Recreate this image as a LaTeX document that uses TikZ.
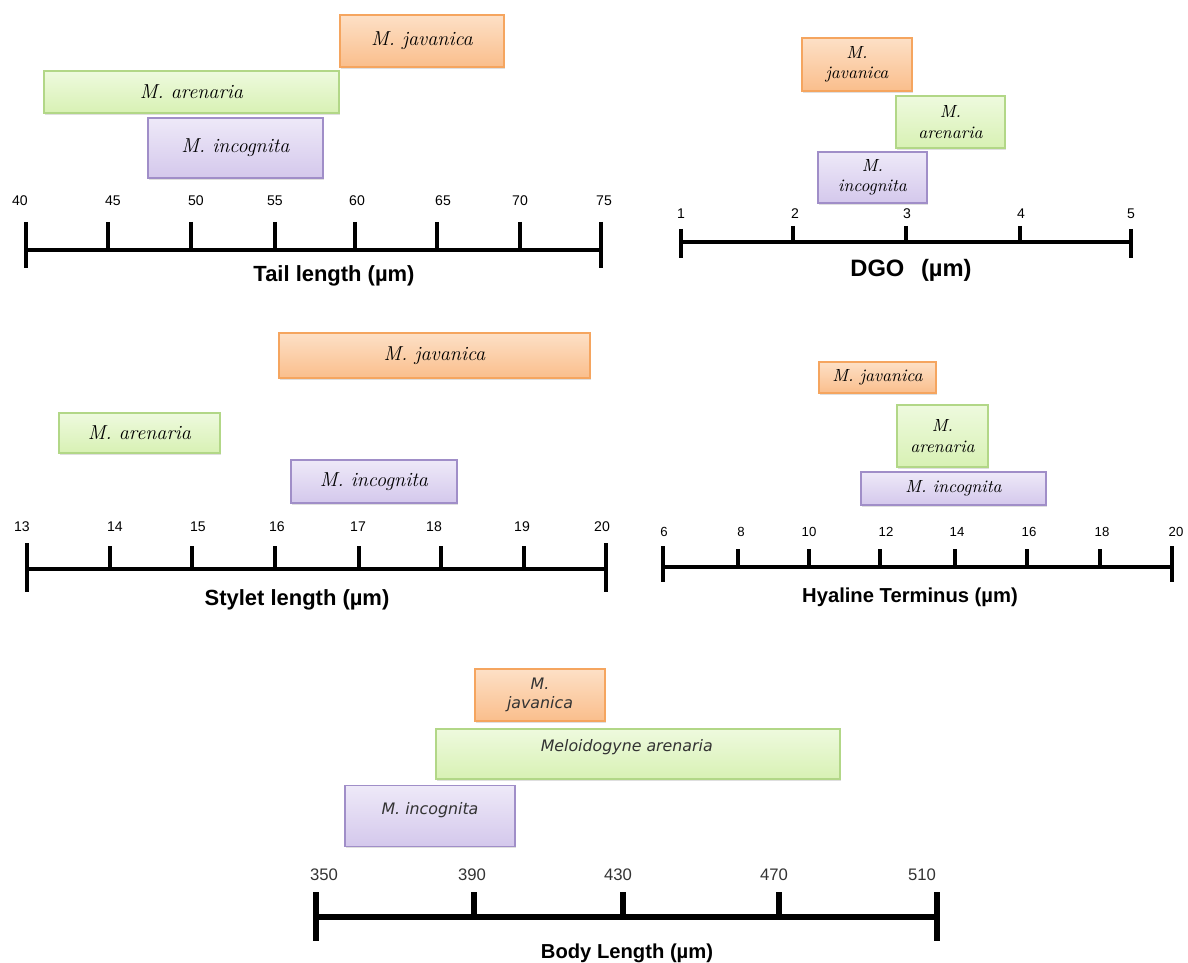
\documentclass[tikz,border=0pt]{standalone}
\usepackage{fontspec}
\setsansfont{Liberation Sans}
\newfontfamily\bodyfont{DejaVu Sans}
\usetikzlibrary{positioning,shadows}
\definecolor{javaline}{RGB}{245,165,95}
\definecolor{javatop}{RGB}{253,224,198}
\definecolor{javabot}{RGB}{250,190,140}
\definecolor{arenline}{RGB}{178,215,135}
\definecolor{arentop}{RGB}{238,250,222}
\definecolor{arenbot}{RGB}{216,241,180}
\definecolor{incoline}{RGB}{160,142,200}
\definecolor{incotop}{RGB}{238,233,248}
\definecolor{incobot}{RGB}{212,200,236}

\begin{document}
\begin{tikzpicture}[x=0.02cm, y=-0.02cm,
  sp_box/.style={draw, line width=0.8pt, inner sep=1pt, align=center,
    font=\itshape\fontsize{11.5}{13}\selectfont,
    drop shadow={shadow xshift=0.6pt, shadow yshift=-0.9pt, opacity=0.25}},
  java_box/.style={sp_box, draw=javaline, top color=javatop, bottom color=javabot},
  aren_box/.style={sp_box, draw=arenline, top color=arentop, bottom color=arenbot},
  inco_box/.style={sp_box, draw=incoline, top color=incotop, bottom color=incobot},
  small_txt/.style={font=\itshape\fontsize{10}{11.5}\selectfont},
  body_txt/.style={font=\bodyfont\itshape\fontsize{9}{11}\selectfont, text=black!80},
  axis_line/.style={line width=2.2pt},
  body_line/.style={line width=3.4pt},
  tick_label/.style={font=\sffamily\fontsize{8}{9}\selectfont},
  axis_title/.style={font=\sffamily\bfseries\fontsize{12.5}{14}\selectfont},
]
\useasboundingbox (0,0) rectangle (1188,963);

% tail length
\node[java_box, minimum width=3.28cm, minimum height=1.04cm] (tail_java) at (422,41) {M.\ javanica};
\node[aren_box, minimum width=5.9cm, minimum height=0.84cm] (tail_aren) at (191.5,92) {M. arenaria};
\node[inco_box, minimum width=3.5cm, minimum height=1.2cm] (tail_inco) at (235.5,148) {M. incognita};
\coordinate (tail_l) at (26,250);
\coordinate (tail_r) at (601,250);
\draw[axis_line] (tail_l) -- (tail_r);
\draw[axis_line] (26,222) -- (26,268) (601,222) -- (601,268);
\foreach \x in {108,191,275,355,437,520}
  \draw[axis_line] (\x,222) -- (\x,250);
\foreach \lx/\t in {20/40,113/45,196/50,275/55,357/60,443/65,520/70,604/75}
  \node[tick_label] (tail_\t) at (\lx,201) {\t};
\node[axis_title] (tail_title) at (334,276) {Tail length (µm)};

% DGO
\node[java_box, small_txt, minimum width=2.2cm, minimum height=1.06cm] (dgo_java) at (857,64.5) {M.\\javanica};
\node[aren_box, small_txt, minimum width=2.18cm, minimum height=1.04cm] (dgo_aren) at (950.5,122) {M.\\arenaria};
\node[inco_box, small_txt, minimum width=2.18cm, minimum height=1.02cm] (dgo_inco) at (872.5,177.5) {M.\\incognita};
\coordinate (dgo_l) at (681,242);
\coordinate (dgo_r) at (1131,242);
\draw[axis_line] (dgo_l) -- (dgo_r);
\draw[axis_line] (681,229) -- (681,258) (1131,229) -- (1131,258);
\foreach \x in {793,906,1020}
  \draw[axis_line] (\x,226) -- (\x,242);
\foreach \lx/\t in {681/1,795/2,907/3,1021/4,1131/5}
  \node[tick_label] (dgo_\t) at (\lx,214) {\t};
\node[axis_title, font=\sffamily\bfseries\fontsize{13.5}{15}\selectfont] (dgo_title) at (911,270) {DGO\hspace{0.7em}(µm)};

% stylet length
\node[java_box, minimum width=6.22cm, minimum height=0.9cm] (styl_java) at (434.5,355.5) {M.\ javanica};
\node[aren_box, minimum width=3.22cm, minimum height=0.8cm] (styl_aren) at (139.5,433) {M. arenaria};
\node[inco_box, minimum width=3.32cm, minimum height=0.86cm] (styl_inco) at (374,481.5) {M. incognita};
\coordinate (styl_l) at (27,569);
\coordinate (styl_r) at (606,569);
\draw[axis_line] (styl_l) -- (styl_r);
\draw[axis_line] (27,543) -- (27,592) (606,543) -- (606,592);
\foreach \x in {110,192,275,359,441,524}
  \draw[axis_line] (\x,546) -- (\x,569);
\foreach \lx/\t in {22/13,115/14,198/15,277/16,358/17,434/18,522/19,602/20}
  \node[tick_label] (styl_\t) at (\lx,527) {\t};
\node[axis_title] (styl_title) at (297,600) {Stylet length (µm)};

% hyaline terminus
\node[java_box, small_txt, minimum width=2.34cm, minimum height=0.62cm] (hyal_java) at (877.5,377.5) {M. javanica};
\node[aren_box, small_txt, minimum width=1.82cm, minimum height=1.24cm] (hyal_aren) at (942.5,436) {M.\\arenaria};
\node[inco_box, small_txt, minimum width=3.7cm, minimum height=0.66cm] (hyal_inco) at (953.5,488.5) {M. incognita};
\coordinate (hyal_l) at (663,567);
\coordinate (hyal_r) at (1172,567);
\draw[axis_line] (hyal_l) -- (hyal_r);
\draw[axis_line] (663,546) -- (663,582) (1172,546) -- (1172,582);
\foreach \x in {738,809,880,955,1027,1100}
  \draw[axis_line] (\x,549) -- (\x,567);
\foreach \lx/\t in {664/6,741/8,809/10,886/12,957/14,1029/16,1102/18,1176/20}
  \node[tick_label, font=\sffamily\fontsize{7.5}{9}\selectfont] (hyal_\t) at (\lx,532) {\t};
\node[axis_title, font=\sffamily\bfseries\fontsize{11.5}{13}\selectfont] (hyal_title) at (910,597) {Hyaline Terminus (µm)};

% body length
\node[java_box, body_txt, minimum width=2.6cm, minimum height=1.04cm] (body_java) at (540,695) {M.\\javanica};
\node[aren_box, body_txt, minimum width=8.08cm, minimum height=1.0cm, text depth=0.36cm] (body_aren) at (638,754) {Meloidogyne arenaria\hspace{0.45cm}};
\node[inco_box, body_txt, minimum width=3.4cm, minimum height=1.22cm, text depth=0.32cm] (body_inco) at (430,816) {M. incognita};
\coordinate (body_l) at (316,917);
\coordinate (body_r) at (937,917);
\draw[body_line] (body_l) -- (body_r);
\draw[body_line] (316,892) -- (316,941) (937,892) -- (937,941);
\foreach \x in {474,623,779}
  \draw[body_line] (\x,892) -- (\x,917);
\foreach \lx/\t in {324/350,472/390,618/430,774/470,922/510}
  \node[tick_label, font=\sffamily\fontsize{9.5}{11}\selectfont, text=black!80] (body_\t) at (\lx,875) {\t};
\node[axis_title, font=\sffamily\bfseries\fontsize{11.5}{13}\selectfont] (body_title) at (627,953) {Body Length (µm)};
\end{tikzpicture}
\end{document}
